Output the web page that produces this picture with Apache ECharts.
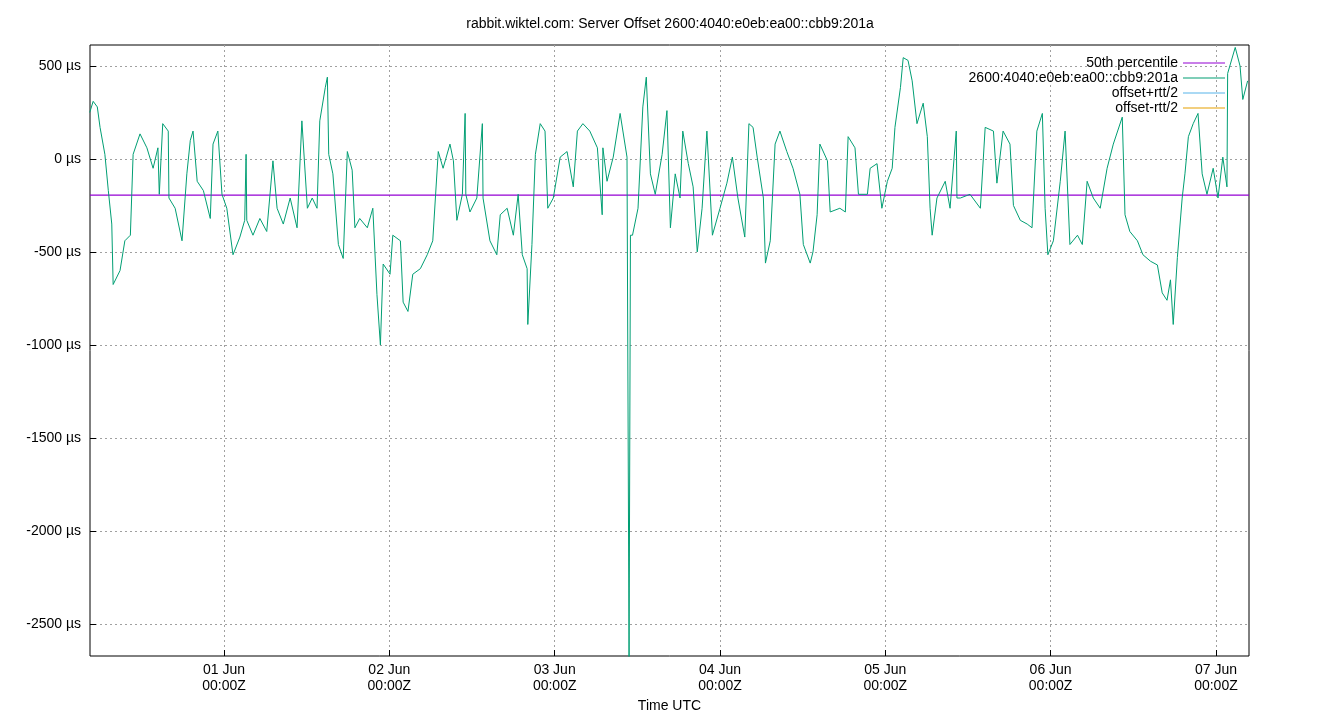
<!DOCTYPE html>
<html><head><meta charset="utf-8">
<script src="https://cdn.jsdelivr.net/npm/echarts@6/dist/echarts.min.js"></script>
<style>html,body{margin:0;padding:0;background:#fff}#c{width:1340px;height:720px}</style>
</head><body><div id="c"></div>
<script>
// hours since 31 May 00:00Z
const hours = [4.5,5.0,5.6,6.0,6.7,7.2,7.7,7.9,8.9,9.6,10.4,10.8,11.8,12.8,13.7,14.4,14.6,15.1,15.9,16.0,16.9,17.9,18.6,19.1,19.5,20.1,21.0,22.0,22.4,23.1,23.7,24.4,25.3,26.3,27.0,27.2,27.3,28.2,29.2,30.2,31.1,31.7,32.6,33.6,34.6,35.3,36.1,36.8,37.5,37.9,38.7,39.0,39.2,39.8,40.6,41.3,41.9,42.6,43.0,43.7,44.8,45.6,46.2,46.7,47.1,48.1,48.5,49.6,50.0,50.7,51.4,52.5,53.5,54.3,55.1,55.8,56.8,57.3,57.8,58.6,59.0,59.1,59.7,60.7,61.5,61.6,62.6,63.6,64.1,65.1,66.0,66.7,67.3,68.0,68.1,68.7,69.2,69.9,70.6,71.0,71.8,72.8,73.8,74.7,75.3,76.1,77.1,78.2,78.9,79.0,79.6,80.5,81.5,82.5,82.8,83.0,83.3,84.1,84.8,85.3,85.9,86.6,87.6,88.3,88.8,89.5,90.2,90.6,91.4,92.1,92.7,93.4,94.1,94.9,96.0,97.0,97.8,98.6,99.6,100.2,100.8,101.4,102.3,102.6,103.3,104.0,104.7,105.7,106.6,107.6,108.1,109.1,109.5,110.1,110.5,111.6,112.0,113.4,114.2,114.6,115.6,116.1,117.4,117.8,118.8,119.5,120.3,121.0,121.4,122.2,122.6,123.3,123.9,124.6,125.5,126.1,126.5,126.8,127.5,128.7,129.4,130.3,130.4,130.9,132.3,133.8,134.5,135.7,136.2,137.1,138.1,138.6,139.6,140.6,141.3,142.0,142.8,143.2,143.6,144.4,145.4,146.1,146.8,147.9,148.6,149.3,150.2,151.2,152.2,153.1,154.4,154.8,155.5,156.6,157.4,158.5,159.5,160.2,160.9,161.4,161.8,162.4,163.1,163.5,164.0,164.7,165.4,166.0,166.7,167.6,168.3,169.0,169.6,169.7,170.8,171.5,171.9,172.6];
const offsets = [250,310,280,170,25,-170,-350,-675,-600,-440,-410,25,135,60,-50,60,-190,190,150,-210,-265,-440,-80,100,150,-120,-170,-320,80,150,-190,-265,-515,-420,-330,25,-330,-410,-320,-390,-10,-265,-350,-210,-370,205,-265,-210,-265,205,385,440,25,-80,-460,-535,40,-60,-370,-320,-370,-265,-730,-1000,-565,-620,-410,-440,-770,-820,-620,-590,-515,-440,40,-50,80,-10,-330,-190,245,-190,-285,-210,190,-210,-440,-515,-300,-265,-410,-190,-515,-590,-890,-460,25,190,150,-265,-210,10,40,-150,150,190,150,60,-300,60,-120,10,245,10,-2700,-410,-410,-265,280,440,-80,-190,25,260,-370,-80,-210,150,-25,-150,-500,-265,150,-410,-265,-130,10,-210,-420,190,170,10,-210,-560,-440,80,150,40,-50,-190,-460,-560,-500,-300,80,-10,-285,-265,-285,120,60,-190,-190,-50,-25,-265,-120,-50,170,385,545,530,420,190,300,120,-265,-410,-210,-120,-265,150,-210,-210,-190,-265,170,150,-130,150,80,-250,-330,-350,-370,150,245,-265,-515,-440,-120,150,-460,-410,-460,-120,-210,-265,-50,80,225,-300,-390,-440,-515,-550,-570,-720,-760,-650,-890,-530,-210,-80,120,190,245,-80,-190,-50,-210,10,-150,460,600,500,320,420];
const percentile50 = -194;
const xRange = [4.54, 172.8];
const yRange = [-2673, 613];
const yTicks = [-2500,-2000,-1500,-1000,-500,0,500];
const xTicks = [24,48,72,96,120,144,168];
const dayLabels = ['01 Jun','02 Jun','03 Jun','04 Jun','05 Jun','06 Jun','07 Jun'];

const chart = echarts.init(document.getElementById('c'));
const font = 'Liberation Sans, Arial, sans-serif';
const dashed = {show:true,lineStyle:{color:'#a0a0a0',type:[2,3],width:1}};
chart.setOption({
  animation:false,
  title:{text:'rabbit.wiktel.com: Server Offset 2600:4040:e0eb:ea00::cbb9:201a',left:'center',top:12,
    textStyle:{fontFamily:font,fontSize:14,fontWeight:'normal',color:'#000'}},
  grid:{left:90,right:91,top:45,bottom:64,show:true,borderColor:'#000',borderWidth:1,backgroundColor:'transparent'},
  legend:{right:110,top:51,orient:'vertical',align:'right',itemGap:1,itemWidth:42,itemHeight:1,icon:'rect',
    textStyle:{fontFamily:font,fontSize:14,color:'#000',padding:[0,0,0,0]},
    data:['50th percentile','2600:4040:e0eb:ea00::cbb9:201a','offset+rtt/2','offset-rtt/2']},
  xAxis:{type:'value',min:xRange[0],max:xRange[1],
    name:'Time UTC',nameLocation:'middle',nameGap:42,nameTextStyle:{fontFamily:font,fontSize:14,color:'#000'},
    axisLine:{show:false,onZero:false},
    axisTick:{inside:true,length:6,lineStyle:{color:'#000'},customValues:xTicks},
    axisLabel:{customValues:xTicks,fontFamily:font,fontSize:14,color:'#000',lineHeight:16,margin:6,
      formatter:v=>dayLabels[Math.round(v/24)-1]+'\n00:00Z'},
    splitLine:dashed},
  yAxis:{type:'value',min:yRange[0],max:yRange[1],
    axisLine:{show:false,onZero:false},
    axisTick:{inside:true,length:6,lineStyle:{color:'#000'},customValues:yTicks},
    axisLabel:{customValues:yTicks,fontFamily:font,fontSize:14,color:'#000',margin:9,formatter:v=>v+' µs'},
    splitLine:dashed},
  series:[
    {name:'50th percentile',type:'line',symbol:'none',color:'#9400d3',lineStyle:{width:1.2,color:'#9400d3'},
      data:[[xRange[0],percentile50],[xRange[1],percentile50]],z:3},
    {name:'2600:4040:e0eb:ea00::cbb9:201a',type:'line',symbol:'none',color:'#009e73',lineStyle:{width:1,color:'#009e73'},
      data:hours.map((h,i)=>[h,offsets[i]]),z:4},
    {name:'offset+rtt/2',type:'line',symbol:'none',color:'#56b4e9',lineStyle:{width:1,color:'#56b4e9'},data:[]},
    {name:'offset-rtt/2',type:'line',symbol:'none',color:'#e69f00',lineStyle:{width:1,color:'#e69f00'},data:[]}
  ]
});
</script></body></html>
